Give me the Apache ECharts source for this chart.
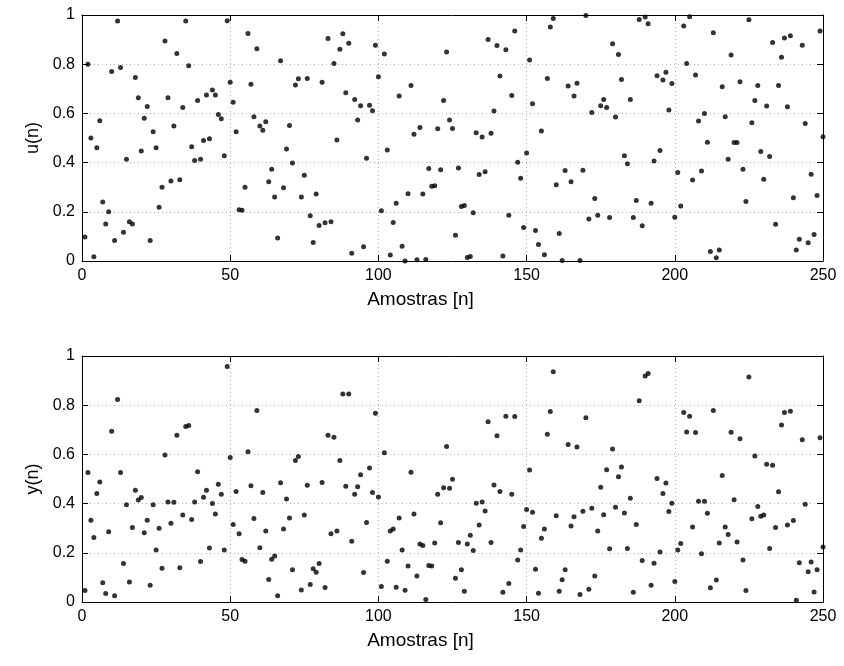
<!DOCTYPE html>
<html><head><meta charset="utf-8">
<script src="https://cdn.jsdelivr.net/npm/echarts@6/dist/echarts.min.js"></script>
<style>html,body{margin:0;padding:0;background:#fff}#c{width:844px;height:666px}</style>
</head><body><div id="c"></div>
<script>
const xTicks = [0, 50, 100, 150, 200, 250];
const yTicks = [0, 0.2, 0.4, 0.6, 0.8, 1];
const xTitle = 'Amostras [n]';
const topTitle = 'u(n)';
const bottomTitle = 'y(n)';

// u(n), samples n = 1..250
const uValues = [
0.098,0.80,0.50,0.017,0.46,0.57,0.24,0.15,0.20,0.77,
0.083,0.976,0.787,0.117,0.414,0.16,0.15,0.746,0.664,0.447,
0.58,0.628,0.083,0.525,0.46,0.219,0.30,0.894,0.664,0.325,
0.549,0.843,0.33,0.624,0.976,0.794,0.464,0.409,0.652,0.414,
0.49,0.675,0.497,0.695,0.675,0.596,0.578,0.428,0.977,0.727,
0.645,0.525,0.208,0.206,0.30,0.925,0.718,0.586,0.863,0.549,
0.532,0.566,0.322,0.373,0.26,0.093,0.814,0.298,0.455,0.551,
0.398,0.715,0.741,0.26,0.349,0.742,0.184,0.075,0.272,0.144,
0.727,0.155,0.904,0.16,0.803,0.492,0.861,0.924,0.684,0.885,
0.031,0.657,0.573,0.631,0.058,0.418,0.633,0.611,0.877,0.749,
0.204,0.841,0.451,0.024,0.157,0.235,0.671,0.06,0.0,0.273,
0.713,0.515,0.005,0.543,0.272,0.006,0.376,0.304,0.306,0.538,
0.371,0.652,0.85,0.573,0.539,0.105,0.378,0.222,0.226,0.014,
0.018,0.196,0.521,0.352,0.504,0.363,0.9,0.519,0.61,0.876,
0.752,0.02,0.859,0.186,0.673,0.935,0.401,0.336,0.136,0.439,
0.817,0.639,0.124,0.067,0.528,0.025,0.742,0.951,0.986,0.31,
0.112,0.002,0.368,0.711,0.322,0.671,0.723,0.002,0.369,0.998,
0.171,0.604,0.254,0.186,0.631,0.657,0.624,0.177,0.883,0.585,
0.839,0.738,0.428,0.395,0.657,0.177,0.246,0.982,0.143,0.992,
0.964,0.235,0.407,0.753,0.449,0.736,0.767,0.614,0.722,0.178,
0.36,0.224,0.955,0.803,0.993,0.329,0.756,0.569,0.366,0.6,
0.483,0.039,0.928,0.013,0.045,0.708,0.586,0.414,0.837,0.482,
0.482,0.729,0.373,0.242,0.981,0.562,0.652,0.713,0.445,0.332,
0.63,0.425,0.888,0.149,0.713,0.828,0.906,0.627,0.916,0.257,
0.045,0.088,0.877,0.559,0.074,0.353,0.108,0.266,0.935,0.505
];

// y(n), samples n = 1..250
const yValues = [
0.047,0.526,0.332,0.262,0.441,0.488,0.078,0.035,0.286,0.694,
0.025,0.823,0.526,0.156,0.395,0.081,0.303,0.454,0.415,0.425,
0.281,0.332,0.068,0.395,0.211,0.30,0.137,0.598,0.407,0.32,
0.405,0.678,0.139,0.354,0.713,0.717,0.335,0.407,0.529,0.165,
0.426,0.454,0.22,0.40,0.358,0.479,0.438,0.211,0.957,0.587,
0.315,0.449,0.277,0.173,0.166,0.611,0.473,0.339,0.778,0.221,
0.445,0.289,0.091,0.174,0.187,0.025,0.485,0.297,0.419,0.341,
0.131,0.575,0.591,0.049,0.354,0.475,0.071,0.135,0.121,0.156,
0.486,0.059,0.678,0.277,0.67,0.289,0.575,0.846,0.471,0.846,
0.247,0.438,0.469,0.517,0.12,0.323,0.545,0.445,0.767,0.427,
0.063,0.607,0.166,0.289,0.297,0.06,0.341,0.211,0.048,0.146,
0.527,0.358,0.106,0.236,0.23,0.01,0.148,0.146,0.24,0.438,
0.322,0.464,0.632,0.462,0.499,0.097,0.242,0.131,0.044,0.236,
0.271,0.209,0.401,0.313,0.407,0.37,0.733,0.242,0.476,0.676,
0.449,0.04,0.755,0.075,0.438,0.754,0.171,0.211,0.307,0.376,
0.537,0.365,0.133,0.036,0.259,0.297,0.682,0.774,0.936,0.351,
0.044,0.09,0.131,0.64,0.309,0.347,0.63,0.03,0.369,0.749,
0.052,0.381,0.106,0.289,0.466,0.355,0.538,0.216,0.622,0.385,
0.509,0.549,0.362,0.217,0.422,0.04,0.315,0.818,0.169,0.919,
0.929,0.068,0.158,0.502,0.203,0.441,0.484,0.368,0.401,0.083,
0.211,0.238,0.77,0.691,0.755,0.305,0.689,0.41,0.196,0.41,
0.361,0.058,0.778,0.089,0.24,0.514,0.305,0.274,0.69,0.416,
0.244,0.664,0.171,0.047,0.915,0.338,0.594,0.388,0.349,0.354,
0.56,0.217,0.556,0.303,0.448,0.72,0.77,0.313,0.775,0.331,
0.007,0.16,0.66,0.397,0.123,0.163,0.041,0.131,0.668,0.224
];

const FONT = 'Liberation Sans';
const toPts = arr => arr.map((v, i) => [i + 1, v]);

function axesFor(gridIndex, yName) {
  const lineStyle = { color: '#000', width: 1 };
  const split = { show: true, lineStyle: { color: '#b4b4b4', type: [1, 3], width: 1 } };
  const xs = [
    { gridIndex, type: 'value', position: 'bottom', min: xTicks[0], max: xTicks[xTicks.length - 1], interval: 50,
      axisLine: { show: true, onZero: false, lineStyle }, axisTick: { show: true, inside: true, length: 6, lineStyle },
      axisLabel: { show: true, color: '#000', fontFamily: FONT, fontSize: 16, margin: 7 },
      splitLine: split, name: xTitle, nameLocation: 'middle', nameGap: 29,
      nameTextStyle: { color: '#000', fontFamily: FONT, fontSize: 19, padding: [0, 64, 0, 0] } },
    { gridIndex, type: 'value', position: 'top', min: xTicks[0], max: xTicks[xTicks.length - 1], interval: 50,
      axisLine: { show: true, onZero: false, lineStyle }, axisTick: { show: true, inside: true, length: 6, lineStyle },
      axisLabel: { show: false }, splitLine: { show: false } }
  ];
  const ys = [
    { gridIndex, type: 'value', position: 'left', min: yTicks[0], max: yTicks[yTicks.length - 1], interval: 0.2,
      axisLine: { show: true, onZero: false, lineStyle }, axisTick: { show: true, inside: true, length: 6, lineStyle },
      axisLabel: { show: true, color: '#000', fontFamily: FONT, fontSize: 16, margin: 7 },
      splitLine: split, name: yName, nameLocation: 'middle', nameGap: 33,
      nameTextStyle: { color: '#000', fontFamily: FONT, fontSize: 18 } },
    { gridIndex, type: 'value', position: 'right', min: yTicks[0], max: yTicks[yTicks.length - 1], interval: 0.2,
      axisLine: { show: true, onZero: false, lineStyle }, axisTick: { show: true, inside: true, length: 6, lineStyle },
      axisLabel: { show: false }, splitLine: { show: false } }
  ];
  return { xs, ys };
}

const a0 = axesFor(0, topTitle);
const a1 = axesFor(1, bottomTitle);

const chart = echarts.init(document.getElementById('c'), null, { renderer: 'canvas' });
chart.setOption({
  animation: false,
  backgroundColor: '#fff',
  grid: [
    { left: 82, top: 15, width: 741, height: 246 },
    { left: 82, top: 356, width: 741, height: 246 }
  ],
  xAxis: [...a0.xs, ...a1.xs],
  yAxis: [...a0.ys, ...a1.ys],
  series: [
    { type: 'scatter', xAxisIndex: 0, yAxisIndex: 0, data: toPts(uValues), symbol: 'circle', symbolSize: 5,
      itemStyle: { color: '#000' } },
    { type: 'scatter', xAxisIndex: 2, yAxisIndex: 2, data: toPts(yValues), symbol: 'circle', symbolSize: 5,
      itemStyle: { color: '#000' } }
  ]
});
</script>
</body></html>
